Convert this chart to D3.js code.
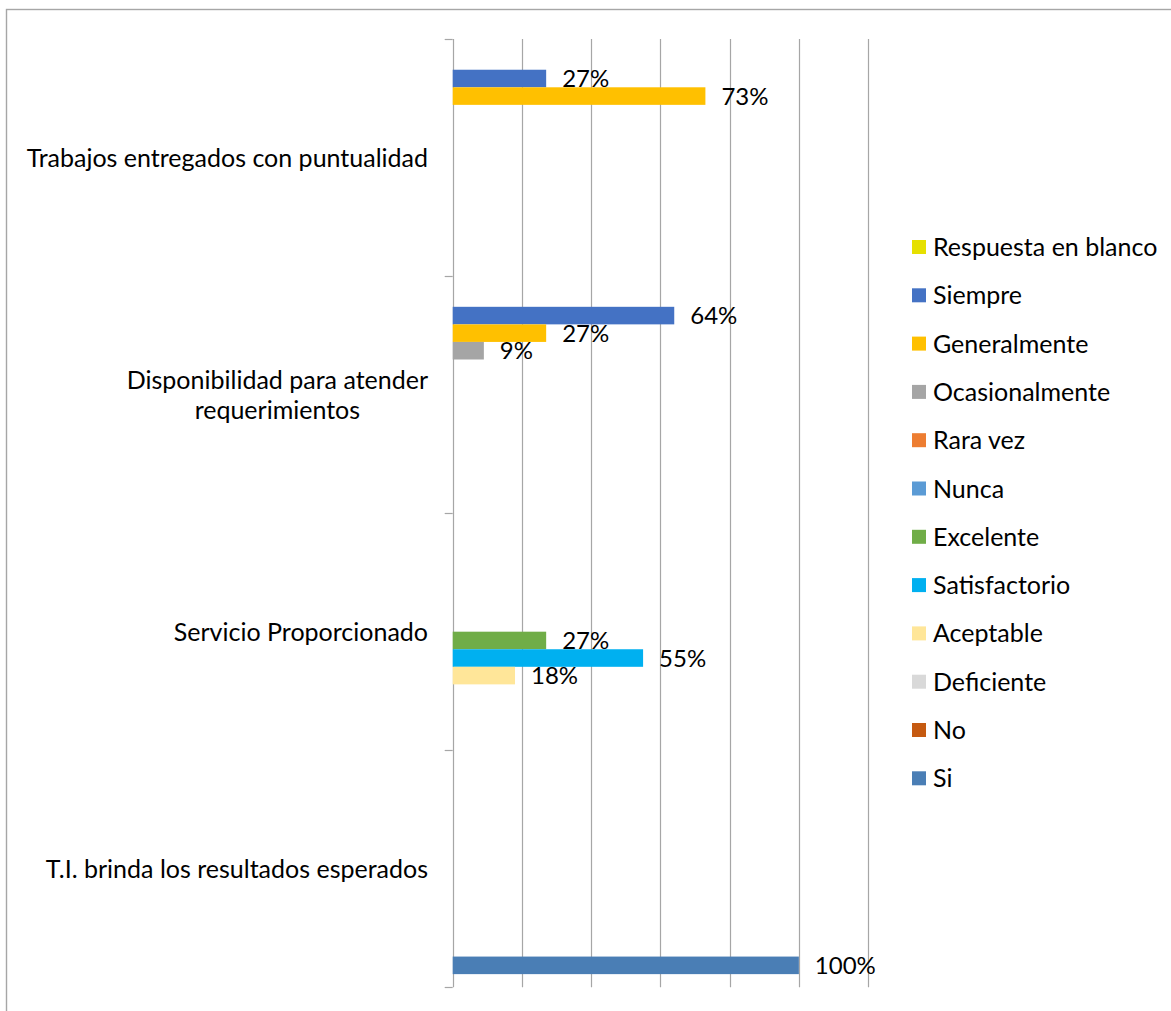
<!DOCTYPE html>
<html>
<head>
<meta charset="utf-8">
<script src="https://cdn.jsdelivr.net/npm/d3@7"></script>
<style>
  html, body { margin: 0; padding: 0; background: #fff; }
  svg { display: block; font-family: Lato, "Noto Sans", sans-serif; }
</style>
</head>
<body>
<svg id="chart" width="1171" height="1011"></svg>
<script>
// Survey categories (top to bottom)
const categories = [
  "Trabajos entregados con puntualidad",
  "Disponibilidad para atender requerimientos",
  "Servicio Proporcionado",
  "T.I. brinda los resultados esperados"
];

// Response options, in legend order
const seriesNames = [
  "Respuesta en blanco", "Siempre", "Generalmente", "Ocasionalmente",
  "Rara vez", "Nunca", "Excelente", "Satisfactorio", "Aceptable",
  "Deficiente", "No", "Si"
];

const seriesColors = [
  "#e6e000", "#4472c4", "#ffc000", "#a5a5a5",
  "#ed7d31", "#5b9bd5", "#70ad47", "#00b0f0", "#ffe699",
  "#d9d9d9", "#c55a11", "#4a7eb5"
];

// Percent of answers per category (null = no answers)
const respuestaEnBlanco = [null, null, null, null];
const siempre          = [27, 64, null, null];
const generalmente     = [73, 27, null, null];
const ocasionalmente   = [null, 9, null, null];
const raraVez          = [null, null, null, null];
const nunca            = [null, null, null, null];
const excelente        = [null, null, 27, null];
const satisfactorio    = [null, null, 55, null];
const aceptable        = [null, null, 18, null];
const deficiente       = [null, null, null, null];
const no               = [null, null, null, null];
const si               = [null, null, null, 100];

const seriesValues = [
  respuestaEnBlanco, siempre, generalmente, ocasionalmente, raraVez, nunca,
  excelente, satisfactorio, aceptable, deficiente, no, si
];

// Value axis gridlines (no labels drawn)
const gridTicks = [0, 20, 40, 60, 80, 100, 120];

const svg = d3.select("#chart");
const gridColor = "#a6a6a6";

// Outer frame
svg.append("rect")
  .attr("x", 6.5).attr("y", 9.5)
  .attr("width", 1300).attr("height", 1200)
  .attr("fill", "none")
  .attr("stroke", gridColor)
  .attr("stroke-width", 1.4);

const x = d3.scaleLinear().domain([0, 120]).range([452.7, 868.1]);
const y = d3.scaleBand().domain(categories).range([39, 987.3]).padding(0);
const ySeries = d3.scaleBand().domain(seriesNames)
  .range([0, y.bandwidth()]).paddingInner(0).paddingOuter(0.75);

// Vertical gridlines
svg.append("g").selectAll("line")
  .data(gridTicks)
  .join("line")
  .attr("x1", d => Math.round(x(d)) + 0.5)
  .attr("x2", d => Math.round(x(d)) + 0.5)
  .attr("y1", y.range()[0])
  .attr("y2", y.range()[1])
  .attr("stroke", gridColor)
  .attr("stroke-width", 1.2);

// Category axis with ticks at band boundaries
const boundaries = categories.map(c => y(c)).concat([y.range()[1]]);
const catAxis = svg.append("g");
catAxis.selectAll("line.tick")
  .data(boundaries)
  .join("line")
  .attr("class", "tick")
  .attr("x1", x(0) - 8)
  .attr("x2", x(0))
  .attr("y1", d => Math.round(d) + 0.5)
  .attr("y2", d => Math.round(d) + 0.5)
  .attr("stroke", gridColor)
  .attr("stroke-width", 1.2);

// Bars
const groups = svg.append("g").selectAll("g")
  .data(categories)
  .join("g")
  .attr("transform", c => `translate(0,${y(c)})`);

const cells = groups.selectAll("g.cell")
  .data((c, ci) => seriesNames.map((s, si) => ({
    series: s, color: seriesColors[si], value: seriesValues[si][ci]
  })).filter(d => d.value != null))
  .join("g")
  .attr("class", "cell");

cells.append("rect")
  .attr("x", x(0))
  .attr("y", d => ySeries(d.series))
  .attr("width", d => x(d.value) - x(0))
  .attr("height", ySeries.bandwidth())
  .attr("fill", d => d.color);

// Data labels outside the bar end
cells.append("text")
  .attr("x", d => x(d.value) + 16)
  .attr("y", d => ySeries(d.series) + ySeries.bandwidth() / 2)
  .attr("dy", "0.36em")
  .attr("font-size", 24)
  .attr("fill", "#000")
  .text(d => d.value + "%");

// Category labels, wrapped and centred as a block right of x = 428
const labelRight = 428;
const labelSize = 25;
const lineHeight = 30;
const maxLabelWidth = 425;
const measurer = svg.append("text").attr("font-size", labelSize).attr("visibility", "hidden");
function textWidth(s) { measurer.text(s); return measurer.node().getComputedTextLength(); }
function wrap(s) {
  const words = s.split(" ");
  const lines = [];
  let cur = "";
  words.forEach(w => {
    const t = cur ? cur + " " + w : w;
    if (cur && textWidth(t) > maxLabelWidth) { lines.push(cur); cur = w; }
    else cur = t;
  });
  if (cur) lines.push(cur);
  return lines;
}

categories.forEach(c => {
  const lines = wrap(c);
  const widest = d3.max(lines, textWidth);
  const cx = labelRight - widest / 2;
  const cy = y(c) + y.bandwidth() / 2;
  const t = svg.append("text")
    .attr("font-size", labelSize)
    .attr("text-anchor", "middle")
    .attr("fill", "#000");
  lines.forEach((ln, i) => {
    t.append("tspan")
      .attr("x", cx)
      .attr("y", cy + (i - (lines.length - 1) / 2) * lineHeight)
      .attr("dy", "0.36em")
      .text(ln);
  });
});
measurer.remove();

// Legend
const legend = svg.append("g").attr("transform", "translate(912,247)");
const legendStep = 48.3;
const items = legend.selectAll("g")
  .data(seriesNames)
  .join("g")
  .attr("transform", (d, i) => `translate(0,${i * legendStep})`);
items.append("rect")
  .attr("x", 0).attr("y", -7)
  .attr("width", 14).attr("height", 14)
  .attr("fill", (d, i) => seriesColors[i]);
items.append("text")
  .attr("x", 21)
  .attr("dy", "0.36em")
  .attr("font-size", labelSize)
  .attr("fill", "#000")
  .text(d => d);
</script>
</body>
</html>
